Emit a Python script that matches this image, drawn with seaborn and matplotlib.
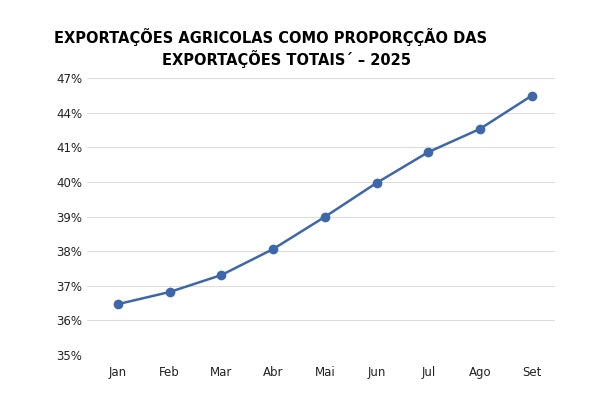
import matplotlib
matplotlib.use("Agg")
import matplotlib.pyplot as plt
import seaborn as sns
import pandas as pd

months = ["Jan", "Feb", "Mar", "Abr", "Mai", "Jun", "Jul", "Ago", "Set"]
# values expressed on the chart's evenly spaced (non-linear) tick scale
values = [1.47, 1.82, 2.31, 3.06, 3.99, 4.97, 5.86, 6.53, 7.49]
tick_labels = ["35%", "36%", "37%", "38%", "39%", "40%", "41%", "44%", "47%"]

sns.set_theme(style="white")
plt.rcParams['font.family'] = ['DejaVu Sans']

df = pd.DataFrame({"month": months, "value": values})
fig, ax = plt.subplots(figsize=(6, 4), dpi=100)
fig.subplots_adjust(left=0.145, right=0.925, top=0.805, bottom=0.1125)
sns.lineplot(data=df, x="month", y="value", ax=ax, color="#3d67a8",
             linewidth=1.8, marker="o", markersize=7, markeredgewidth=0, sort=False)
ax.set_yticks(range(len(tick_labels)))
ax.set_yticklabels(tick_labels, fontsize=8.5, color="#222222")
ax.set_ylim(0, 8)
ax.set_xlim(-0.6, 8.45)
ax.tick_params(axis="x", labelsize=8.5, length=0, pad=8, labelcolor="#222222")
ax.tick_params(axis="y", length=0)
ax.grid(axis="y", color="#dddddd", linewidth=0.8)
for s in ax.spines.values():
    s.set_visible(False)
ax.set_xlabel("")
ax.set_ylabel("")
fig.text(0.09 + 0.0, 0.885, "EXPORTAÇÕES AGRICOLAS COMO PROPORÇÇÃO DAS",
         ha="left", va="bottom", fontsize=10.5, fontweight="bold", color="black")
fig.text(0.27, 0.83, "EXPORTAÇÕES TOTAIS´ – 2025",
         ha="left", va="bottom", fontsize=10.5, fontweight="bold", color="black")
fig.savefig("out.png", dpi=100, facecolor="white")
